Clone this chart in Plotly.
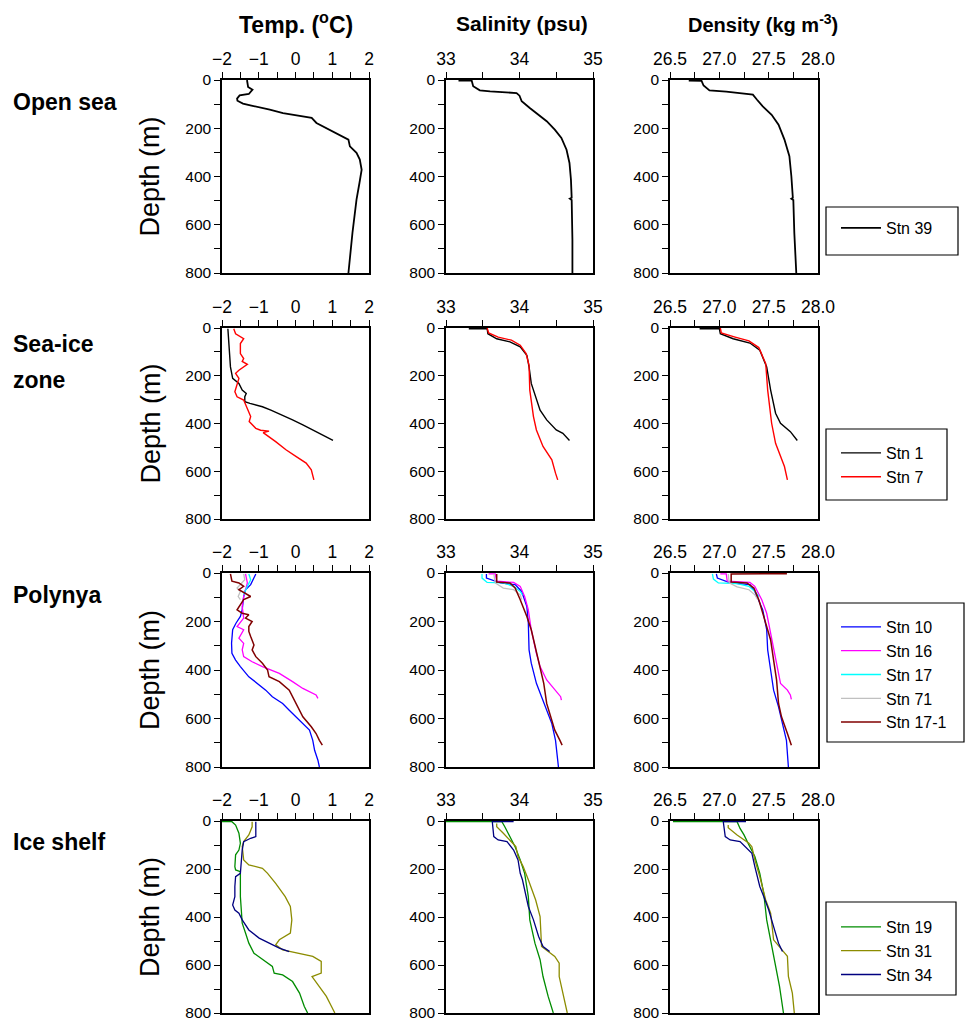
import plotly.graph_objects as go

W, H = 965, 1022
FONT = "Liberation Sans, Arial, Helvetica, sans-serif"

# ---------------- data (depth in m) ----------------
# Open sea: Stn 39
stn39_temp_d = [0, 29, 40, 58, 64, 77, 86, 98, 106, 116, 123, 137, 146, 157, 178, 206, 233, 247, 275, 302, 330, 372, 427, 496, 634, 800]
stn39_temp = [-1.32, -1.29, -1.17, -1.27, -1.52, -1.59, -1.58, -1.43, -1.2, -0.88, -0.70, -0.34, 0.03, 0.44, 0.57, 0.94, 1.30, 1.44, 1.48, 1.66, 1.75, 1.80, 1.74, 1.66, 1.55, 1.44]
stn39_sal_d = [3, 3, 26, 43, 47, 50, 54, 65, 88, 116, 144, 171, 206, 240, 289, 344, 413, 488, 492, 497, 662, 800]
stn39_sal = [33.17, 33.35, 33.37, 33.46, 33.60, 33.74, 33.96, 34.00, 34.03, 34.14, 34.26, 34.37, 34.48, 34.57, 34.64, 34.68, 34.70, 34.71, 34.685, 34.71, 34.72, 34.72]
stn39_den_d = [3, 4, 23, 43, 48, 61, 81, 109, 144, 185, 247, 316, 399, 488, 492, 497, 634, 800]
stn39_den = [26.69, 26.82, 26.84, 26.90, 27.07, 27.34, 27.38, 27.44, 27.53, 27.60, 27.66, 27.71, 27.73, 27.745, 27.73, 27.75, 27.76, 27.78]

# Sea-ice zone: Stn 1, Stn 7
stn1_temp_d = [3, 51, 100, 163, 211, 232, 260, 274, 288, 309, 316, 330, 344, 365, 385, 406, 427, 448, 471]
stn1_temp = [-1.84, -1.82, -1.79, -1.77, -1.71, -1.54, -1.45, -1.34, -1.38, -1.38, -1.24, -0.90, -0.67, -0.35, -0.08, 0.20, 0.47, 0.75, 1.02]
stn1_sal_d = [3, 3, 24, 45, 58, 79, 114, 163, 232, 302, 344, 385, 427, 441, 471]
stn1_sal = [33.31, 33.56, 33.57, 33.69, 33.87, 34.01, 34.10, 34.13, 34.16, 34.23, 34.28, 34.37, 34.50, 34.59, 34.68]
stn1_den_d = [3, 3, 24, 45, 63, 93, 163, 260, 357, 399, 434, 471]
stn1_den = [26.80, 27.00, 27.01, 27.14, 27.31, 27.41, 27.48, 27.52, 27.57, 27.62, 27.72, 27.79]

stn7_temp_d = [3, 24, 45, 65, 107, 128, 140, 152, 177, 190, 211, 239, 267, 288, 302, 371, 392, 420, 428, 432, 438, 476, 510, 538, 566, 594, 636]
stn7_temp = [-1.68, -1.63, -1.41, -1.50, -1.50, -1.41, -1.45, -1.31, -1.54, -1.63, -1.54, -1.59, -1.65, -1.59, -1.41, -1.22, -1.26, -1.08, -0.95, -0.72, -0.88, -0.54, -0.26, 0.01, 0.29, 0.43, 0.50]
stn7_sal_d = [0, 21, 38, 51, 72, 107, 156, 260, 371, 427, 496, 552, 608, 636]
stn7_sal = [33.56, 33.58, 33.71, 33.89, 34.01, 34.09, 34.13, 34.14, 34.19, 34.23, 34.32, 34.44, 34.49, 34.52]
stn7_den_d = [0, 21, 38, 54, 82, 149, 260, 399, 483, 538, 580, 636]
stn7_den = [27.01, 27.02, 27.16, 27.30, 27.40, 27.47, 27.49, 27.53, 27.57, 27.62, 27.66, 27.69]

# Polynya: Stn 10, 16, 17, 71, 17-1
stn10_temp_d = [4, 21, 48, 69, 97, 152, 179, 207, 234, 290, 331, 359, 386, 428, 462, 483, 510, 538, 566, 593, 621, 648, 690, 731, 772, 800]
stn10_temp = [-1.08, -1.13, -1.22, -1.36, -1.41, -1.45, -1.50, -1.62, -1.71, -1.74, -1.73, -1.63, -1.50, -1.27, -0.99, -0.81, -0.63, -0.35, -0.17, 0.01, 0.20, 0.38, 0.47, 0.52, 0.61, 0.65]
stn10_sal_d = [4, 21, 41, 48, 76, 138, 207, 317, 372, 455, 510, 566, 621, 690, 800]
stn10_sal = [33.55, 33.55, 33.74, 33.94, 34.03, 34.10, 34.12, 34.13, 34.16, 34.23, 34.30, 34.37, 34.44, 34.49, 34.53]
stn10_den_d = [4, 21, 41, 48, 76, 152, 234, 317, 400, 483, 552, 621, 690, 800]
stn10_den = [26.97, 26.98, 27.11, 27.31, 27.36, 27.44, 27.48, 27.49, 27.52, 27.55, 27.60, 27.64, 27.68, 27.70]

stn16_temp_d = [4, 41, 97, 138, 186, 221, 234, 269, 290, 317, 345, 366, 386, 414, 448, 476, 503, 517]
stn16_temp = [-1.36, -1.31, -1.41, -1.45, -1.41, -1.59, -1.41, -1.54, -1.41, -1.45, -1.41, -1.18, -0.90, -0.44, -0.08, 0.20, 0.56, 0.61]
stn16_sal_d = [4, 4, 34, 39, 55, 97, 152, 234, 331, 386, 441, 483, 510, 524]
stn16_sal = [33.58, 33.67, 33.69, 33.92, 34.01, 34.07, 34.12, 34.16, 34.23, 34.28, 34.37, 34.48, 34.56, 34.57]
stn16_den_d = [4, 4, 34, 39, 55, 110, 166, 248, 345, 455, 483, 503, 521]
stn16_den = [27.01, 27.07, 27.08, 27.31, 27.36, 27.43, 27.48, 27.52, 27.57, 27.62, 27.69, 27.72, 27.73]

stn17_temp_d = [4, 28, 55, 76, 90]
stn17_temp = [-1.27, -1.22, -1.31, -1.38, -1.41]
stn17_sal_d = [4, 21, 39, 41, 55, 76, 90]
stn17_sal = [33.49, 33.49, 33.56, 33.78, 33.92, 34.01, 34.04]
stn17_den_d = [4, 25, 41, 44, 55, 76, 97]
stn17_den = [26.93, 26.94, 26.99, 27.18, 27.30, 27.36, 27.40]

stn71_temp_d = [4, 28, 62, 76, 97, 110]
stn71_temp = [-1.41, -1.38, -1.59, -1.50, -1.56, -1.50]
stn71_sal_d = [4, 41, 62, 69, 90, 110]
stn71_sal = [33.65, 33.67, 33.78, 33.92, 34.01, 34.03]
stn71_den_d = [4, 41, 57, 69, 90, 110]
stn71_den = [27.09, 27.10, 27.18, 27.30, 27.36, 27.39]

stn17_1_temp_d = [4, 34, 41, 55, 69, 83, 97, 110, 131, 152, 166, 172, 186, 200, 221, 241, 262, 297, 317, 345, 372, 400, 428, 448, 483, 538, 593, 634, 662, 690, 710]
stn17_1_temp = [-1.77, -1.73, -1.54, -1.41, -1.54, -1.36, -1.22, -1.41, -1.50, -1.59, -1.45, -1.27, -1.36, -1.18, -1.27, -1.27, -1.22, -1.13, -1.18, -1.08, -0.90, -0.76, -0.72, -0.44, -0.17, 0.01, 0.20, 0.43, 0.56, 0.65, 0.73]
stn17_1_sal_d = [4, 37, 41, 62, 110, 179, 234, 303, 386, 455, 538, 579, 648, 690, 710]
stn17_1_sal = [33.69, 33.69, 33.87, 33.94, 34.01, 34.10, 34.16, 34.21, 34.28, 34.33, 34.37, 34.41, 34.48, 34.55, 34.58]
stn17_1_den_d = [3, 4, 37, 41, 62, 110, 207, 276, 359, 441, 538, 593, 662, 710]
stn17_1_den = [27.685, 27.12, 27.12, 27.28, 27.35, 27.40, 27.47, 27.52, 27.55, 27.58, 27.60, 27.63, 27.69, 27.73]

# Ice shelf: Stn 19, 31, 34
stn19_temp_d = [3, 3, 17, 51, 93, 121, 141, 190, 204, 211, 315, 426, 467, 509, 551, 578, 606, 634, 641, 669, 717, 773, 800]
stn19_temp = [-2.0, -1.73, -1.63, -1.54, -1.50, -1.54, -1.63, -1.65, -1.63, -1.50, -1.50, -1.45, -1.36, -1.27, -1.13, -0.90, -0.63, -0.58, -0.35, -0.08, 0.11, 0.24, 0.33]
stn19_sal_d = [3, 3, 24, 65, 107, 162, 218, 315, 412, 509, 578, 648, 731, 800]
stn19_sal = [33.0, 33.76, 33.80, 33.87, 33.94, 34.01, 34.07, 34.12, 34.14, 34.21, 34.28, 34.32, 34.39, 34.46]
stn19_den_d = [3, 3, 31, 58, 100, 148, 218, 301, 412, 523, 606, 689, 800]
stn19_den = [26.53, 27.18, 27.21, 27.25, 27.30, 27.36, 27.41, 27.45, 27.48, 27.53, 27.57, 27.61, 27.65]

stn31_temp_d = [3, 24, 58, 86, 107, 162, 183, 197, 218, 260, 315, 356, 412, 467, 495, 516, 537, 551, 564, 585, 634, 648, 690, 731, 773, 800]
stn31_temp = [-1.18, -1.18, -1.27, -1.41, -1.45, -1.41, -1.27, -0.90, -0.76, -0.54, -0.28, -0.14, -0.10, -0.14, -0.44, -0.54, -0.35, 0.11, 0.47, 0.70, 0.70, 0.45, 0.65, 0.84, 0.98, 1.07]
stn31_sal_d = [10, 24, 51, 79, 107, 148, 190, 245, 301, 329, 398, 523, 564, 592, 648, 717, 800]
stn31_sal = [33.69, 33.69, 33.78, 33.87, 33.95, 33.98, 34.05, 34.12, 34.19, 34.22, 34.28, 34.30, 34.48, 34.54, 34.54, 34.59, 34.65]
stn31_den_d = [17, 28, 58, 93, 107, 162, 232, 329, 384, 495, 544, 564, 648, 717, 800]
stn31_den = [27.09, 27.09, 27.18, 27.30, 27.33, 27.36, 27.41, 27.47, 27.52, 27.55, 27.65, 27.69, 27.70, 27.74, 27.76]

stn34_temp_d = [3, 65, 72, 86, 121, 176, 218, 232, 273, 315, 350, 371, 384, 412, 454, 488, 509, 530, 544]
stn34_temp = [-1.08, -1.08, -1.22, -1.41, -1.45, -1.48, -1.50, -1.63, -1.65, -1.65, -1.71, -1.65, -1.54, -1.45, -1.27, -0.99, -0.72, -0.44, -0.17]
stn34_sal_d = [3, 3, 65, 79, 86, 121, 162, 218, 245, 287, 356, 412, 481, 523, 544]
stn34_sal = [33.92, 33.63, 33.65, 33.71, 33.83, 33.92, 33.98, 34.01, 34.04, 34.07, 34.12, 34.19, 34.26, 34.32, 34.41]
stn34_den_d = [3, 3, 65, 79, 86, 135, 190, 273, 315, 370, 440, 509, 544]
stn34_den = [27.27, 27.04, 27.06, 27.11, 27.21, 27.33, 27.36, 27.41, 27.45, 27.50, 27.55, 27.60, 27.64]

row_labels = [["Open sea"], ["Sea-ice", "zone"], ["Polynya"], ["Ice shelf"]]
col_titles = ["Temp. (<sup>o</sup>C)", "Salinity (psu)", "Density (kg m<sup>-3</sup>)"]
depth_title = "Depth (m)"

# (row, name, colour, width, temp, salinity, density)
stations = [
    (0, "Stn 39", "#000000", 1.8, (stn39_temp_d, stn39_temp), (stn39_sal_d, stn39_sal), (stn39_den_d, stn39_den)),
    (1, "Stn 1", "#000000", 1.4, (stn1_temp_d, stn1_temp), (stn1_sal_d, stn1_sal), (stn1_den_d, stn1_den)),
    (1, "Stn 7", "#ff0000", 1.4, (stn7_temp_d, stn7_temp), (stn7_sal_d, stn7_sal), (stn7_den_d, stn7_den)),
    (2, "Stn 10", "#0000ff", 1.3, (stn10_temp_d, stn10_temp), (stn10_sal_d, stn10_sal), (stn10_den_d, stn10_den)),
    (2, "Stn 16", "#ff00ff", 1.3, (stn16_temp_d, stn16_temp), (stn16_sal_d, stn16_sal), (stn16_den_d, stn16_den)),
    (2, "Stn 17", "#00ffff", 1.3, (stn17_temp_d, stn17_temp), (stn17_sal_d, stn17_sal), (stn17_den_d, stn17_den)),
    (2, "Stn 71", "#c0c0c0", 1.3, (stn71_temp_d, stn71_temp), (stn71_sal_d, stn71_sal), (stn71_den_d, stn71_den)),
    (2, "Stn 17-1", "#800000", 1.5, (stn17_1_temp_d, stn17_1_temp), (stn17_1_sal_d, stn17_1_sal), (stn17_1_den_d, stn17_1_den)),
    (3, "Stn 19", "#008c00", 1.3, (stn19_temp_d, stn19_temp), (stn19_sal_d, stn19_sal), (stn19_den_d, stn19_den)),
    (3, "Stn 31", "#8c8c00", 1.3, (stn31_temp_d, stn31_temp), (stn31_sal_d, stn31_sal), (stn31_den_d, stn31_den)),
    (3, "Stn 34", "#000080", 1.3, (stn34_temp_d, stn34_temp), (stn34_sal_d, stn34_sal), (stn34_den_d, stn34_den)),
]

# ---------------- layout geometry (pixels) ----------------
col_px = [(222, 369), (446, 593), (670, 818)]
row_px = [(80, 273), (328, 519), (573, 767), (821, 1013)]
legend_box_px = [(826, 958, 207, 255), (826, 947, 429, 500), (827, 964, 603, 742), (826, 956, 902, 995)]
legend_top_px = [211, 436, 610, 910]
title_cx = [296, 522, 763]
title_size = [23, 21, 20]

def fx(px):
    return px / W

def fy(py):
    return 1 - py / H

x_cfg = [
    dict(range=[-2, 2], dtick=1, tick0=0, minor=0.5, fmt=None),
    dict(range=[33, 35], dtick=1, tick0=33, minor=0.5, fmt=None),
    dict(range=[26.5, 28.0], dtick=0.5, tick0=26.5, minor=0.25, fmt=".1f"),
]

fig = go.Figure()
legend_names = ["legend", "legend2", "legend3", "legend4"]

for (row, name, color, width, t, s, d) in stations:
    for col, (dep, val) in enumerate([t, s, d]):
        k = row * 3 + col + 1
        fig.add_trace(go.Scatter(
            x=val, y=dep, mode="lines", name=name,
            line=dict(color=color, width=width),
            xaxis=f"x{k}", yaxis=f"y{k}",
            showlegend=(col == 0), legendgroup=name,
            legend=legend_names[row], hoverinfo="skip",
        ))

layout = dict(
    width=W, height=H, margin=dict(l=0, r=0, t=0, b=0, pad=0, autoexpand=False),
    paper_bgcolor="white", plot_bgcolor="white",
    font=dict(family=FONT, color="black"),
    shapes=[], annotations=[],
)

for row in range(4):
    for col in range(3):
        k = row * 3 + col + 1
        cfg = x_cfg[col]
        xa = dict(
            domain=[fx(col_px[col][0]), fx(col_px[col][1])],
            range=cfg["range"], side="top", anchor=f"y{k}", automargin=False,
            tickmode="linear", tick0=cfg["tick0"], dtick=cfg["dtick"],
            ticks="outside", ticklen=6, tickwidth=1.2, tickcolor="black",
            minor=dict(dtick=cfg["minor"], tick0=cfg["tick0"], ticks="outside", ticklen=6, tickwidth=1.2, tickcolor="black", showgrid=False),
            showline=True, linecolor="black", linewidth=1.5, mirror=True,
            showgrid=False, zeroline=False,
            tickfont=dict(size=17.5, family=FONT, color="black"),
        )
        if cfg["fmt"]:
            xa["tickformat"] = cfg["fmt"]
        ya = dict(
            domain=[fy(row_px[row][1]), fy(row_px[row][0])],
            range=[800, 0], anchor=f"x{k}", automargin=False,
            tickmode="linear", tick0=0, dtick=200,
            ticks="outside", ticklen=6, tickwidth=1.2, tickcolor="black",
            minor=dict(dtick=100, tick0=0, ticks="outside", ticklen=6, tickwidth=1.2, tickcolor="black", showgrid=False),
            showline=True, linecolor="black", linewidth=1.5, mirror=True,
            showgrid=False, zeroline=False,
            tickfont=dict(size=15.5, family=FONT, color="black"),
        )
        layout[f"xaxis{k}"] = xa
        layout[f"yaxis{k}"] = ya

# column titles
for col, title in enumerate(col_titles):
    layout["annotations"].append(dict(
        text=f"<b>{title}</b>", x=fx(title_cx[col]), y=fy(23), xref="paper", yref="paper",
        xanchor="center", yanchor="middle", showarrow=False,
        font=dict(size=title_size[col], family=FONT, color="black")))

# row labels and depth titles
row_label_y = [[102], [344, 380], [595], [842]]
for row in range(4):
    for txt, yy in zip(row_labels[row], row_label_y[row]):
        layout["annotations"].append(dict(
            text=f"<b>{txt}</b>", x=fx(11), y=fy(yy), xref="paper", yref="paper",
            xanchor="left", yanchor="middle", showarrow=False,
            font=dict(size=23, family=FONT, color="black")))
    cy = (row_px[row][0] + row_px[row][1]) / 2
    layout["annotations"].append(dict(
        text=depth_title, x=fx(150), y=fy(cy), xref="paper", yref="paper",
        xanchor="center", yanchor="middle", showarrow=False, textangle=-90,
        font=dict(size=27, family=FONT, color="black")))

# legend boxes and legends
for row in range(4):
    x0, x1, y0, y1 = legend_box_px[row]
    layout["shapes"].append(dict(
        type="rect", xref="paper", yref="paper",
        x0=fx(x0), x1=fx(x1), y0=fy(y1), y1=fy(y0),
        line=dict(color="black", width=1.2), fillcolor="rgba(0,0,0,0)"))
    layout[legend_names[row]] = dict(
        x=fx(836), y=fy(legend_top_px[row]), xanchor="left", yanchor="top",
        bgcolor="rgba(0,0,0,0)", borderwidth=0, tracegroupgap=0,
        font=dict(size=16, family=FONT, color="black"), itemwidth=40,
        traceorder="normal",
    )

fig.update_layout(**layout)
fig.write_html(
    "out.html",
    config={"displayModeBar": False},
    post_script="document.body.style.margin='0px';document.body.style.padding='0px';document.body.style.overflow='hidden';",
)
